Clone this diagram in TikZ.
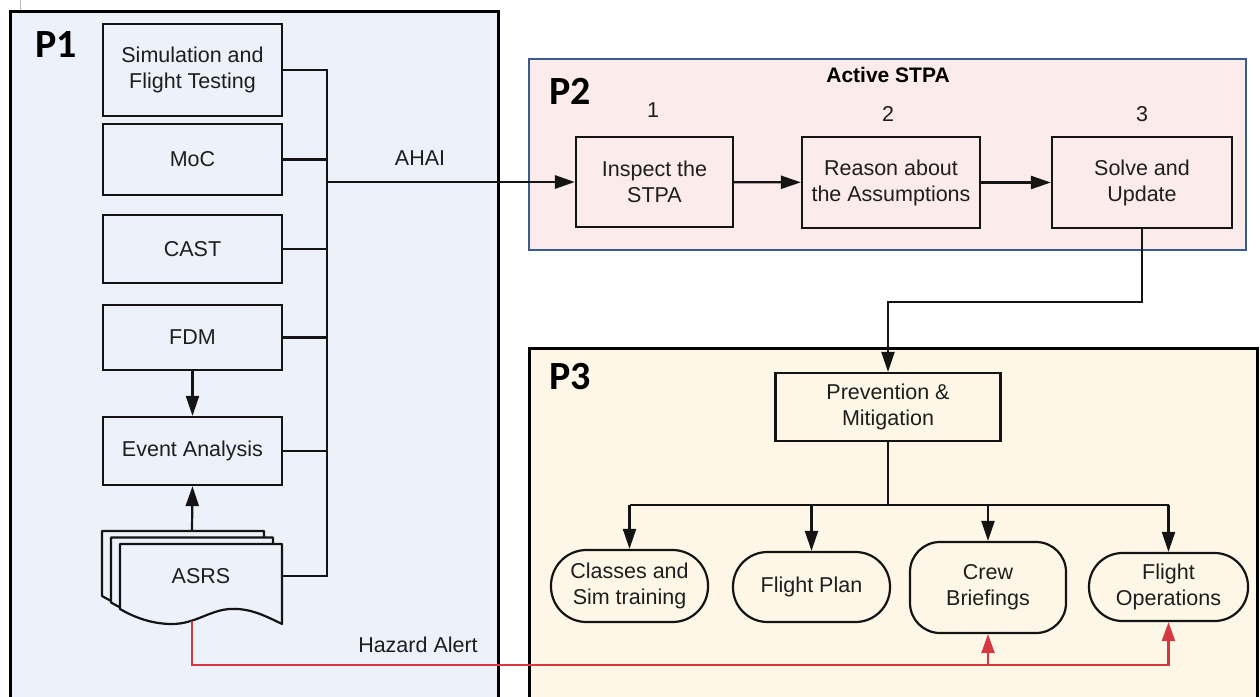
\documentclass[tikz,border=0pt]{standalone}
\usepackage{fontspec}
\setmainfont{Liberation Sans}
\newfontfamily\pfont{Carlito}
\usetikzlibrary{arrows.meta}
\definecolor{paneA}{HTML}{EDF1FA}
\definecolor{paneB}{HTML}{FBEBEB}
\definecolor{paneC}{HTML}{FEF7E7}
\definecolor{paneBline}{HTML}{3B5B8F}
\definecolor{ink}{HTML}{141414}
\definecolor{txt}{HTML}{1E1E1E}
\definecolor{alert}{HTML}{D5393F}
\newcommand\asrspage{(120,544) -- (282,544) -- (282,624)
  .. controls (262,614) and (248,608) .. (230,609)
  .. controls (210,610) and (195,624) .. (172,624)
  .. controls (150,624) and (132,616) .. (120,609) -- cycle}
\begin{document}
\begin{tikzpicture}[x=1pt,y=-1pt,
  font=\fontsize{21.5}{26}\selectfont,
  box/.style={draw=ink, line width=2.2pt, text=txt, align=center, inner sep=0pt},
  pill/.style={box, rounded corners=#1},
  panel/.style={line width=3pt},
  plabel/.style={font=\pfont\fontsize{40}{40}\selectfont\bfseries, text=black, inner sep=0pt},
  lbl/.style={text=txt, inner sep=0pt},
  conn/.style={draw=ink, line width=2.2pt},
  arrow/.style={conn, -{Triangle[length=20pt,width=13pt]}},
  redarrow/.style={draw=alert, line width=2.2pt, -{Triangle[length=19pt,width=13pt]}}]
\clip (0,0) rectangle (1260,696);
\fill[white] (0,0) rectangle (1260,696);

% panels
\draw[gray!50, line width=0.8pt] (20,0) -- (20,11);
\draw[panel, draw=black, fill=paneA] (10,11) rectangle (498,720);
\draw[line width=2.2pt, draw=paneBline, fill=paneB] (529,59) rectangle (1246,250);
\draw[panel, draw=black, fill=paneC] (529,348) rectangle (1257,720);
\node[plabel] (p1) at (56,45) {P1};
\node[plabel] (p2) at (570,91) {P2};
\node[plabel] (p3) at (570,377) {P3};

% P1 sources
\node[box, minimum width=179pt, minimum height=92pt] (sim) at (192.5,70) {Simulation and\\Flight Testing};
\node[box, minimum width=179pt, minimum height=71pt] (moc) at (192.5,159.5) {MoC};
\node[box, minimum width=179pt, minimum height=68pt] (cast) at (192.5,249) {CAST};
\node[box, minimum width=179pt, minimum height=65pt] (fdm) at (192.5,337.5) {FDM};
\node[box, minimum width=179pt, minimum height=68pt] (event) at (192.5,451) {Event Analysis};

% ASRS report stack
\begin{scope}[shift={(-18,-13)}]
  \draw[draw=ink, line width=2.2pt, fill=paneA, line join=round] \asrspage;
\end{scope}
\begin{scope}[shift={(-9,-6.5)}]
  \draw[draw=ink, line width=2.2pt, fill=paneA, line join=round] \asrspage;
\end{scope}
\draw[draw=ink, line width=2.2pt, fill=paneA, line join=round] \asrspage;
\node[lbl] (asrs) at (201,576) {ASRS};
\coordinate (asrsR) at (282,576);
\coordinate (asrsB) at (192,621);
\coordinate (asrsT) at (192,531);

% P2 steps
\node[font=\fontsize{21}{26}\selectfont\bfseries, text=black, inner sep=0pt] (stpa) at (888,75) {Active STPA};
\node[lbl] (n1) at (653,110) {1};
\node[lbl] (n2) at (888,114) {2};
\node[lbl] (n3) at (1142,114) {3};
\node[box, minimum width=157pt, minimum height=90pt] (inspect) at (654.5,182) {Inspect the\\STPA};
\node[box, minimum width=178pt, minimum height=91pt] (reason) at (891,182.5) {Reason about\\the Assumptions};
\node[box, minimum width=180pt, minimum height=91pt] (solve) at (1142,182.5) {Solve and\\Update};

% P3 actions
\node[box, minimum width=225pt, minimum height=68pt] (pm) at (888,407) {Prevention \&\\Mitigation};
\node[pill=35.5pt, minimum width=157pt, minimum height=72pt] (classes) at (629.5,586) {Classes and\\Sim training};
\node[pill=34.5pt, minimum width=157pt, minimum height=70pt] (plan) at (811.5,587) {Flight Plan};
\node[pill=30pt, minimum width=156pt, minimum height=91pt] (crew) at (988,587.5) {Crew\\Briefings};
\node[pill=33.5pt, minimum width=159pt, minimum height=68pt] (ops) at (1168.5,587) {Flight\\Operations};

% collecting bus
\coordinate (bus) at (327,182);
\draw[conn] (sim.east) -- (sim.east -| bus) |- (asrsR);
\draw[conn] (moc.east) -- (moc.east -| bus);
\draw[conn] (cast.east) -- (cast.east -| bus);
\draw[conn] (fdm.east) -- (fdm.east -| bus);
\draw[conn] (event.east) -- (event.east -| bus);
\draw[arrow, line width=2.8pt] (bus) -- (inspect.west);
\node[lbl] (ahai) at (420,158) {AHAI};

\draw[arrow] (fdm) -- (event);
\draw[arrow] (asrsT) -- (event.south);

\draw[arrow] (inspect) -- (reason);
\draw[arrow] (reason) -- (solve);
\draw[arrow] (solve.south) -- ++(0,73) -| (pm.north);

% distribution to actions
\coordinate (split) at (888,505);
\draw[conn] (pm.south) -- (split);
\draw[conn] (classes.north |- split) -- (ops.north |- split);
\draw[arrow] (classes.north |- split) -- (classes.north);
\draw[arrow] (plan.north |- split) -- (plan.north);
\draw[arrow] (crew.north |- split) -- (crew.north);
\draw[arrow] (ops.north |- split) -- (ops.north);

% hazard alert feed
\coordinate (redline) at (0,665);
\draw[redarrow] (asrsB) |- (ops.south |- redline) -- (ops.south);
\draw[redarrow] (crew.south |- redline) -- (crew.south);
\node[lbl] (hazard) at (418,645) {Hazard Alert};
\end{tikzpicture}
\end{document}
